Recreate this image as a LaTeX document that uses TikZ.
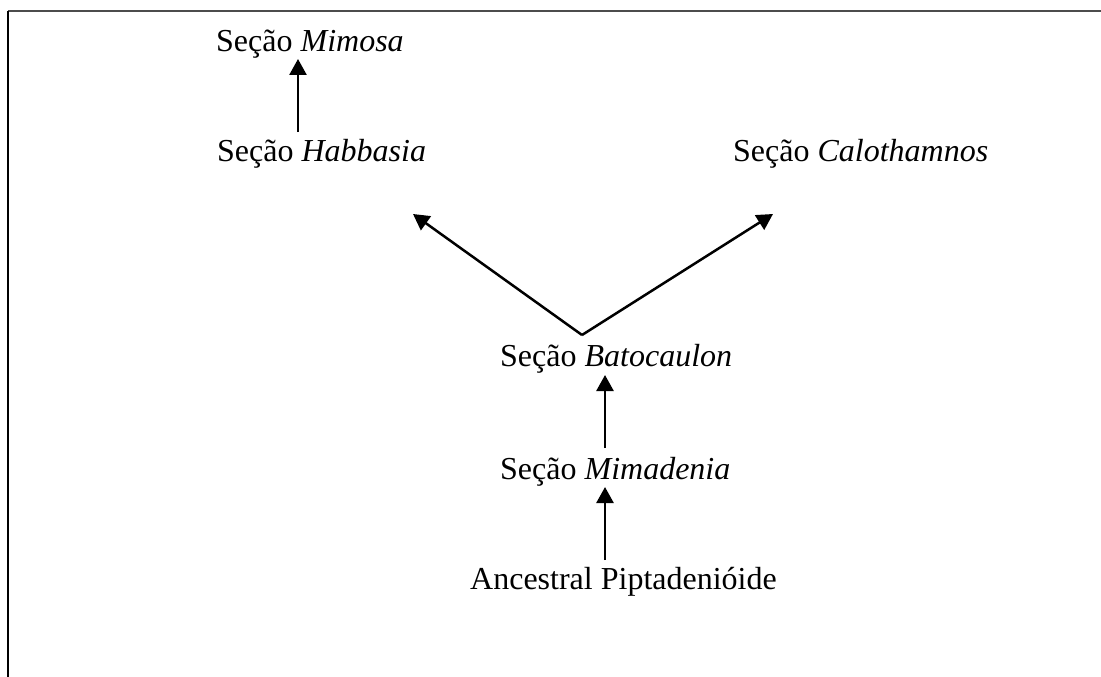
\documentclass[tikz,border=0pt]{standalone}
\usepackage{fontspec}
\setmainfont{Liberation Serif}
\usetikzlibrary{arrows.meta}
\begin{document}
\begin{tikzpicture}[x=1pt,y=-1pt,
  lbl/.style={anchor=base west,inner sep=0pt,font=\fontsize{32}{38}\selectfont},
  arr/.style={line width=2.5pt,-{Triangle[length=16pt,width=17pt]}}]
\useasboundingbox (0,0) rectangle (1101,677);
\draw[line width=2pt,black!70] (8,11) -- (1101,11);
\draw[line width=2pt] (8,11) -- (8,677);
\node[lbl] (mim) at (216,52) {Seção \textit{Mimosa}};
\node[lbl] (hab) at (217,161) {Seção \textit{Habbasia}};
\node[lbl] (cal) at (733,161) {Seção \textit{Calothamnos}};
\node[lbl] (bat) at (500,366) {Seção \textit{Batocaulon}};
\node[lbl] (mad) at (500,479) {Seção \textit{Mimadenia}};
\node[lbl] (anc) at (470,589) {Ancestral Piptadenióide};
\coordinate (habtop) at (298,132);
\coordinate (mimbot) at (298,59);
\coordinate (apex) at (582,335);
\coordinate (habin) at (413,214);
\coordinate (calin) at (773,214);
\coordinate (battop) at (605,448);
\coordinate (batbot) at (605,375);
\coordinate (anctop) at (605,560);
\coordinate (madbot) at (605,487);
\draw[arr] (habtop) -- (mimbot);
\draw[arr] (apex) -- (habin);
\draw[arr] (apex) -- (calin);
\draw[arr] (battop) -- (batbot);
\draw[arr] (anctop) -- (madbot);
\end{tikzpicture}
\end{document}
